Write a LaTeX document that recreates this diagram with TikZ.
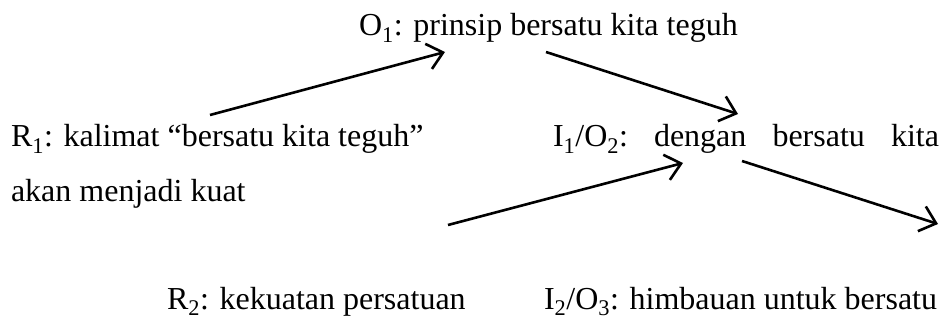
\documentclass[tikz,border=0pt]{standalone}
\usepackage{fontspec}
\setmainfont{Liberation Serif}
\usetikzlibrary{arrows.meta}
\tikzset{
  txt/.style={anchor=base west, inner sep=0pt, outer sep=0pt,
    font=\fontsize{32}{38}\selectfont},
  link/.style={line width=2.6pt, -{Straight Barb[length=15pt, width=26pt, line width=2.6pt]}}
}
\newcommand{\sub}[1]{\textsubscript{#1}}
\begin{document}
\begin{tikzpicture}[x=1pt, y=-1pt]
  \useasboundingbox (0,0) rectangle (942,320);

  % statements
  \node[txt] (o1) at (359,36) {O\sub{1}: prinsip bersatu kita teguh};
  \node[txt] (r1) at (11,147) {R\sub{1}: kalimat “bersatu kita teguh”};
  \node[txt] (r1b) at (11,202) {akan menjadi kuat};
  \node[txt] (i1) at (553,147) {\makebox[386pt][l]{I\sub{1}/O\sub{2}:\hfill dengan\hfill bersatu\hfill kita}};
  \node[txt] (r2) at (167,309) {R\sub{2}: kekuatan persatuan};
  \node[txt] (i2) at (544,309) {I\sub{2}/O\sub{3}: himbauan untuk bersatu};

  % arrow end points
  \coordinate (r1out) at (210,115);
  \coordinate (o1in) at (445,52);
  \coordinate (o1out) at (546,52);
  \coordinate (i1in) at (738,114);
  \coordinate (r2out) at (448,225);
  \coordinate (i1inb) at (683,163);
  \coordinate (i1out) at (742,161);
  \coordinate (i2in) at (938,224);

  % inference arrows
  \draw[link] (r1out) -- (o1in);
  \draw[link] (o1out) -- (i1in);
  \draw[link] (r2out) -- (i1inb);
  \draw[link] (i1out) -- (i2in);
\end{tikzpicture}
\end{document}
